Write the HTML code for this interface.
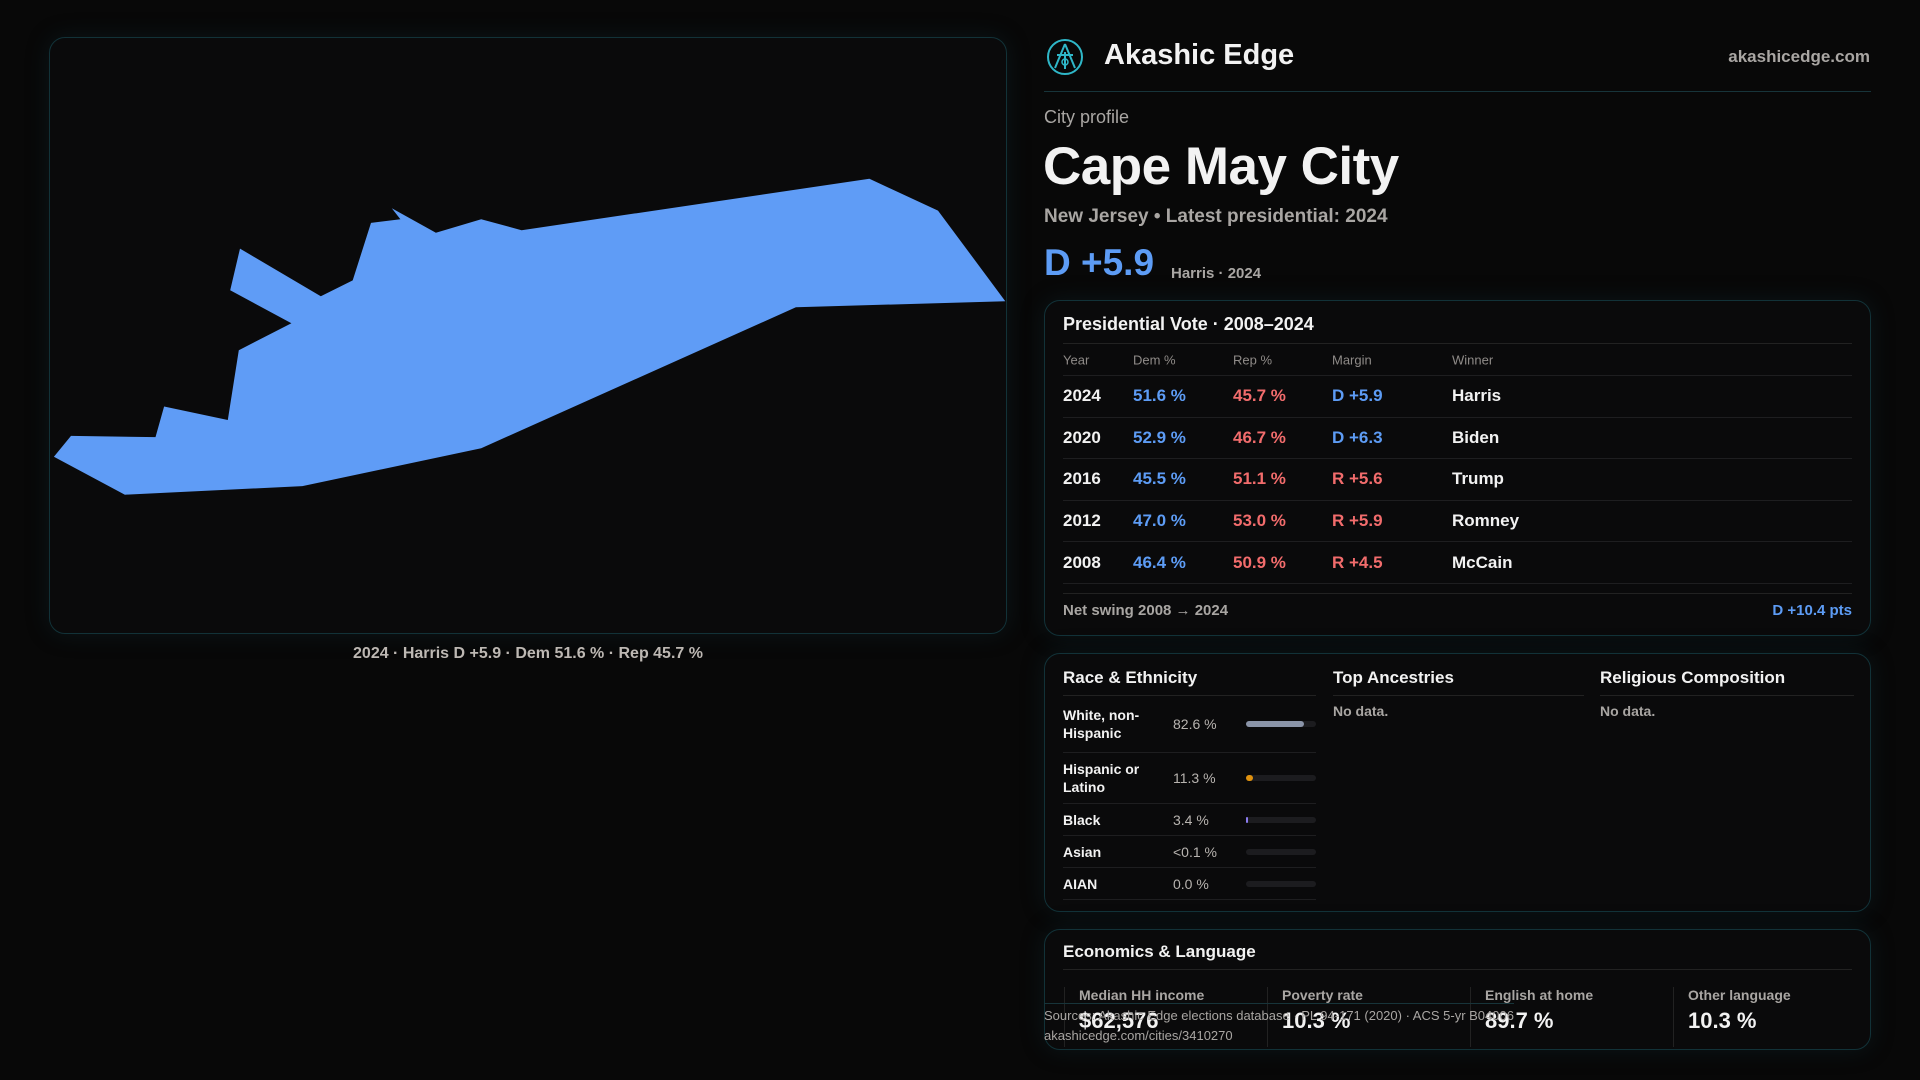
<!DOCTYPE html>
<html><head><meta charset="utf-8"><style>
*{box-sizing:border-box;margin:0;padding:0}
body{width:1920px;height:1080px;background:#080808;font-family:"Liberation Sans",sans-serif;color:#f2f2f2;position:relative;overflow:hidden}
.abs{position:absolute}
.panel{position:absolute;background:#0a0a0b;border:1px solid #123238;border-radius:16px;box-shadow:0 0 24px rgba(20,60,70,0.25)}
.grey{color:#a9a6a3}
.blue{color:#5d9cf5}.red{color:#f26c6c}
.row{position:absolute;left:18px;right:18px;border-bottom:1px solid #1e1e20;font-size:17px;font-weight:bold}
.row span{position:absolute;top:50%;transform:translateY(-50%)}
</style></head><body>

<div class="panel" style="left:49px;top:37px;width:958px;height:597px;">
<svg width="958" height="597" style="position:absolute;left:-1px;top:-1px">
<polygon id="shape" fill="#5f9cf6"/>
</svg>
</div>
<div class="abs grey" style="left:49px;width:958px;top:645px;text-align:center;font-size:16px;font-weight:bold;color:#bdb8b3">2024 · Harris D +5.9 · Dem 51.6 % · Rep 45.7 %</div>

<svg class="abs" style="left:1046px;top:38px" width="38" height="38" viewBox="0 0 38 38">
<circle cx="19" cy="19" r="17" fill="none" stroke="#2fb7c8" stroke-width="2"/>
<path d="M19 6 L9 30 M19 6 L29 30 M11 17 H27 M19 14 V31" stroke="#2fb7c8" stroke-width="2" fill="none"/>
<circle cx="19" cy="24" r="3" fill="none" stroke="#2fb7c8" stroke-width="1.5"/>
</svg>
<div class="abs" style="left:1104px;top:39px;font-size:29px;font-weight:bold">Akashic Edge</div>
<div class="abs grey" style="right:50px;top:47px;font-size:17px;font-weight:bold">akashicedge.com</div>
<div class="abs" style="left:1044px;width:827px;top:91px;height:1px;background:#17343a"></div>

<div class="abs grey" style="left:1044px;top:107px;font-size:18px">City profile</div>
<h1 class="abs" style="left:1043px;top:136px;font-size:53px;font-weight:bold;letter-spacing:-0.5px">Cape May City</h1>
<div class="abs grey" style="left:1044px;top:206px;font-size:19px;font-weight:bold">New Jersey • Latest presidential: 2024</div>
<div class="abs blue" style="left:1044px;top:242px;font-size:37px;font-weight:bold">D +5.9</div>
<div class="abs grey" style="left:1171px;top:265px;font-size:15px;font-weight:bold">Harris · 2024</div>

<div class="panel" style="left:1044px;top:300px;width:827px;height:336px;">
<div class="abs" style="left:18px;top:13px;font-size:18px;font-weight:bold">Presidential Vote · 2008–2024</div>
<div class="abs" style="left:18px;right:18px;top:42px;height:1px;background:#222"></div>
<div class="row grey" style="top:43px;height:32px;font-size:13px;font-weight:normal;color:#8f8b88">
<span style="left:0">Year</span><span style="left:70px">Dem %</span><span style="left:170px">Rep %</span><span style="left:269px">Margin</span><span style="left:389px">Winner</span></div>
<div id="rows"></div>
<div class="abs" style="left:18px;right:18px;top:292px;height:1px;background:#222"></div>
<div class="abs grey" style="left:18px;top:301px;font-size:15px;font-weight:bold">Net swing 2008 → 2024</div>
<div class="abs blue" style="right:18px;top:301px;font-size:15px;font-weight:bold">D +10.4 pts</div>
</div>

<div class="panel" style="left:1044px;top:653px;width:827px;height:259px;">
<div class="abs" style="left:18px;top:14px;font-size:17px;font-weight:bold">Race &amp; Ethnicity</div>
<div class="abs" style="left:18px;width:253px;top:41px;height:1px;background:#222"></div>
<div id="race"></div>
<div class="abs" style="left:288px;top:14px;font-size:17px;font-weight:bold">Top Ancestries</div>
<div class="abs" style="left:288px;width:251px;top:41px;height:1px;background:#222"></div>
<div class="abs grey" style="left:288px;top:49px;font-size:14px;font-weight:bold">No data.</div>
<div class="abs" style="left:555px;top:14px;font-size:17px;font-weight:bold">Religious Composition</div>
<div class="abs" style="left:555px;width:254px;top:41px;height:1px;background:#222"></div>
<div class="abs grey" style="left:555px;top:49px;font-size:14px;font-weight:bold">No data.</div>
</div>

<div class="panel" style="left:1044px;top:929px;width:827px;height:121px;">
<div class="abs" style="left:18px;top:12px;font-size:17px;font-weight:bold">Economics &amp; Language</div>
<div class="abs" style="left:18px;right:18px;top:39px;height:1px;background:#222"></div>
<div id="econ"></div>
</div>

<div class="abs" style="left:1044px;top:1003px;width:470px;border-top:1px solid #17343a;padding-top:2px;font-size:13px;line-height:20px;color:#a9a6a3">Sources: Akashic Edge elections database · PL 94-171 (2020) · ACS 5-yr B04006<br><span>akashicedge.com/cities/3410270</span></div>

<script>
// map outline (display geometry, not data)
const mapPts=[[44,373],[58,356],[127,357],[134,332],[186,343],[195,286],[238,264],[188,237],[196,203],[262,242],[288,229],[303,182],[327,179],[320,170],[356,190],[393,179],[426,188],[710,146],[766,172],[821,246],[650,251],[393,366],[247,397],[102,404]];
const s=1920/1568;
document.getElementById('shape').setAttribute('points',mapPts.map(p=>((p[0]*s-49).toFixed(1)+','+(p[1]*s-37).toFixed(1))).join(' '));

const years=[2024,2020,2016,2012,2008];
const demPct=[51.6,52.9,45.5,47.0,46.4];
const repPct=[45.7,46.7,51.1,53.0,50.9];
const margins=[5.9,6.3,-5.6,-5.9,-4.5];
const winners=['Harris','Biden','Trump','Romney','McCain'];
const rows=document.getElementById('rows');
years.forEach((y,i)=>{
  const m=margins[i];
  const r=document.createElement('div');
  r.className='row';
  
  
  r.style.top=(75+i*41.6)+'px';r.style.height='41.6px';
  const ms=(m>=0?'D +':'R +')+Math.abs(m).toFixed(1);
  r.innerHTML='<span style="left:0">'+y+'</span><span class="blue" style="left:70px">'+demPct[i].toFixed(1)+' %</span><span class="red" style="left:170px">'+repPct[i].toFixed(1)+' %</span><span class="'+(m>=0?'blue':'red')+'" style="left:269px">'+ms+'</span><span style="left:389px">'+winners[i]+'</span>';
  rows.appendChild(r);
});

const raceLabels=['White, non-<br>Hispanic','Hispanic or<br>Latino','Black','Asian','AIAN'];
const racePct=[82.6,11.3,3.4,0.05,0.0];
const racePrinted=['82.6 %','11.3 %','3.4 %','<0.1 %','0.0 %'];
const raceColors=['#8a94a8','#e0920e','#8b7cf0','#666','#666'];
const rowTops=[41,99,150,182,214];
const rowH=[58,51,32,32,32];
const race=document.getElementById('race');
raceLabels.forEach((l,i)=>{
  const r=document.createElement('div');
  
  
  r.style.cssText='position:absolute;left:18px;width:253px;top:'+rowTops[i]+'px;height:'+rowH[i]+'px;border-bottom:1px solid #1e1e20';
  const w=racePct[i]>=1?Math.max(2,70*racePct[i]/100):0;
  const bw=racePct[i]>5&&racePct[i]<20?7:w;
  r.innerHTML='<div style="position:absolute;left:0;top:50%;transform:translateY(-50%);font-size:14px;font-weight:bold;line-height:18px">'+l+'</div>'+
  '<div style="position:absolute;left:110px;top:50%;transform:translateY(-50%);font-size:14px;color:#b8b4b0">'+racePrinted[i].replace('<','&lt;')+'</div>'+
  '<div style="position:absolute;left:183px;width:70px;height:6px;top:50%;margin-top:-3px;background:#1c1c1f;border-radius:3px"><div style="width:'+bw+'px;height:6px;border-radius:3px;background:'+raceColors[i]+'"></div></div>';
  race.appendChild(r);
});

const econLabels=['Median HH income','Poverty rate','English at home','Other language'];
const econValues=['$62,576','10.3 %','89.7 %','10.3 %'];
const econ=document.getElementById('econ');
econLabels.forEach((l,i)=>{
  const c=document.createElement('div');
  
  
  c.style.cssText='position:absolute;left:'+(19+i*203)+'px;top:57px;width:203px;height:60px;border-left:1px solid #222;padding-left:14px';
  c.innerHTML='<div style="font-size:14px;color:#a9a6a3;font-weight:bold">'+l+'</div><div style="font-size:22px;font-weight:bold;margin-top:5px">'+econValues[i]+'</div>';
  econ.appendChild(c);
});
</script>
</body></html>
